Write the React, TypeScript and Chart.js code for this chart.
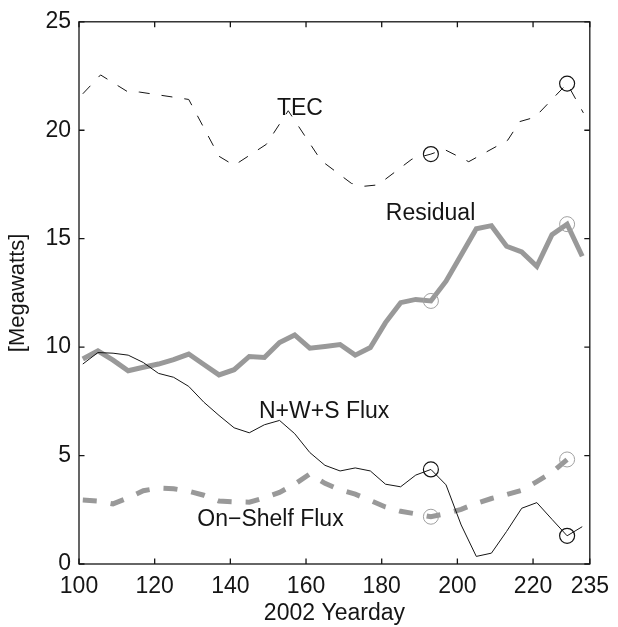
import React, { useEffect, useRef } from 'react';
import { Chart, registerables } from 'chart.js';

Chart.register(...registerables);

// ---- data ----
const gridDays = [101, 105, 109, 113, 117, 121, 125, 129, 133, 137, 141, 145, 149, 153, 157, 161, 165, 169, 173, 177, 181, 185, 189, 193, 197, 201, 205, 209, 213, 217, 221, 225, 229, 233];

const residual = [9.45, 9.83, 9.4, 8.91, 9.07, 9.22, 9.42, 9.68, 9.2, 8.72, 8.96, 9.57, 9.52, 10.21, 10.56, 9.95, 10.03, 10.12, 9.63, 9.98, 11.13, 12.05, 12.2, 12.13, 13.04, 14.25, 15.46, 15.6, 14.65, 14.39, 13.73, 15.18, 15.67, 14.19];

const nwsFlux = [9.22, 9.75, 9.72, 9.63, 9.29, 8.79, 8.61, 8.19, 7.46, 6.85, 6.28, 6.05, 6.42, 6.62, 6.01, 5.14, 4.55, 4.29, 4.43, 4.29, 3.68, 3.56, 4.1, 4.36, 3.65, 1.8, 0.35, 0.5, 1.5, 2.57, 2.83, 2.06, 1.3, 1.72];

const onShelfFlux = [2.95, 2.9, 2.77, 3.05, 3.38, 3.5, 3.47, 3.36, 3.17, 2.9, 2.87, 2.85, 3.05, 3.3, 3.68, 4.15, 3.72, 3.42, 3.22, 2.93, 2.63, 2.43, 2.31, 2.18, 2.32, 2.52, 2.8, 3.02, 3.2, 3.4, 3.8, 4.22, 4.82];

const tecDays = [101, 105.7, 113, 116, 129, 137, 141, 149.5, 155.3, 164, 172, 175.5, 179, 188, 193, 196.5, 203, 213.3, 216.5, 220.5, 229, 233.3];
const tecVals = [21.68, 22.55, 21.76, 21.76, 21.42, 18.8, 18.38, 19.35, 20.9, 18.6, 17.55, 17.42, 17.48, 18.67, 18.9, 19.12, 18.55, 19.54, 20.4, 20.6, 22.15, 20.8];

const markerDays = [193, 229];

const xTicks = [100, 120, 140, 160, 180, 200, 220, 235];
const yTicks = [0, 5, 10, 15, 20, 25];

const seriesNames = ['TEC', 'Residual', 'N+W+S Flux', 'On\u2212Shelf Flux'];
const nameDays = [158.4, 192.9, 164.8, 150.6];
const nameVals = [20.98, 16.17, 7.03, 2.03];

// ---- helpers ----
const FONT = '"Liberation Sans", Arial, Helvetica, sans-serif';
const GRAY = '#999999';
const INK = '#151515';

const zip = (xs: number[], ys: number[]) =>
  ys.map((v, i) => ({ x: xs[i], y: v })).filter((p) => p.x !== undefined);

const pick = (xs: number[], ys: number[], days: number[]) =>
  days.map((d) => ({ x: d, y: ys[xs.indexOf(d)] }));

const framePlugin = {
  id: 'frame',
  afterDatasetsDraw(chart: any) {
    const { ctx, chartArea, scales } = chart;
    const { left, right, top, bottom } = chartArea;
    const x = scales.x;
    const y = scales.y;
    ctx.save();
    ctx.strokeStyle = INK;
    ctx.lineWidth = 1.3;
    ctx.strokeRect(left, top, right - left, bottom - top);
    const tl = 5.5;
    ctx.beginPath();
    xTicks.forEach((v) => {
      const px = x.getPixelForValue(v);
      ctx.moveTo(px, bottom);
      ctx.lineTo(px, bottom - tl);
      ctx.moveTo(px, top);
      ctx.lineTo(px, top + tl);
    });
    yTicks.forEach((v) => {
      const py = y.getPixelForValue(v);
      ctx.moveTo(left, py);
      ctx.lineTo(left + tl, py);
      ctx.moveTo(right, py);
      ctx.lineTo(right - tl, py);
    });
    ctx.stroke();
    ctx.fillStyle = INK;
    ctx.font = `23px ${FONT}`;
    ctx.textAlign = 'center';
    ctx.textBaseline = 'middle';
    seriesNames.forEach((t, i) => {
      ctx.fillText(t, x.getPixelForValue(nameDays[i]), y.getPixelForValue(nameVals[i]));
    });
    ctx.restore();
  },
};

export default function App() {
  const ref = useRef<HTMLCanvasElement | null>(null);

  useEffect(() => {
    if (!ref.current) return;
    const markerBase = {
      type: 'line' as const,
      showLine: false,
      pointRadius: 7.5,
      pointHoverRadius: 7.5,
      pointBackgroundColor: 'rgba(0,0,0,0)',
      pointBorderWidth: 1.2,
    };
    const chart = new Chart(ref.current, {
      type: 'line',
      data: {
        datasets: [
          { ...markerBase, data: pick(tecDays, tecVals, markerDays), pointBorderColor: INK, borderColor: INK },
          { ...markerBase, data: pick(gridDays, nwsFlux, markerDays), pointBorderColor: INK, borderColor: INK },
          { ...markerBase, data: pick(gridDays, residual, markerDays), pointBorderColor: '#a0a0a0', borderColor: '#a0a0a0', pointBorderWidth: 1 },
          { ...markerBase, data: pick(gridDays, onShelfFlux, markerDays), pointBorderColor: '#a0a0a0', borderColor: '#a0a0a0', pointBorderWidth: 1 },
          {
            data: zip(gridDays, nwsFlux),
            borderColor: INK,
            borderWidth: 1,
            pointRadius: 0,
          },
          {
            data: zip(tecDays, tecVals),
            borderColor: INK,
            borderWidth: 1,
            borderDash: [11, 12],
            pointRadius: 0,
          },
          {
            data: zip(gridDays, onShelfFlux),
            borderColor: GRAY,
            borderWidth: 5,
            borderDash: [14, 14],
            pointRadius: 0,
          },
          {
            data: zip(gridDays, residual),
            borderColor: GRAY,
            borderWidth: 5,
            borderJoinStyle: 'miter',
            pointRadius: 0,
          },
        ],
      },
      options: {
        animation: false,
        responsive: false,
        devicePixelRatio: 1,
        events: [],
        layout: { padding: { top: 20, right: 21, left: 0, bottom: 0 } },
        plugins: { legend: { display: false }, tooltip: { enabled: false } },
        elements: { line: { tension: 0 } },
        scales: {
          x: {
            type: 'linear',
            min: 100,
            max: 235,
            afterBuildTicks: (s: any) => {
              s.ticks = xTicks.map((v) => ({ value: v }));
            },
            afterFit: (s: any) => {
              s.height = 63;
            },
            grid: { display: false, drawTicks: false },
            border: { display: false },
            ticks: {
              padding: 9,
              color: INK,
              maxRotation: 0,
              autoSkip: false,
              font: { family: FONT, size: 23 },
            },
            title: {
              display: true,
              text: '2002 Yearday',
              color: INK,
              font: { family: FONT, size: 23 },
              padding: { top: 0, bottom: 0 },
            },
          },
          y: {
            type: 'linear',
            min: 0,
            max: 25,
            afterBuildTicks: (s: any) => {
              s.ticks = yTicks.map((v) => ({ value: v }));
            },
            afterFit: (s: any) => {
              s.width = 79;
            },
            grid: { display: false, drawTicks: false },
            border: { display: false },
            ticks: {
              padding: 8,
              color: INK,
              autoSkip: false,
              font: { family: FONT, size: 23 },
            },
            title: {
              display: true,
              text: '[Megawatts]',
              color: INK,
              font: { family: FONT, size: 22 },
              padding: { top: 5, bottom: 0 },
            },
          },
        },
      },
      plugins: [framePlugin],
    } as any);
    return () => chart.destroy();
  }, []);

  return (
    <div style={{ position: 'absolute', left: 0, top: 0, width: 618, height: 627, background: '#fff' }}>
      <canvas ref={ref} width={618} height={627} style={{ width: 618, height: 627, display: 'block' }} />
    </div>
  );
}
